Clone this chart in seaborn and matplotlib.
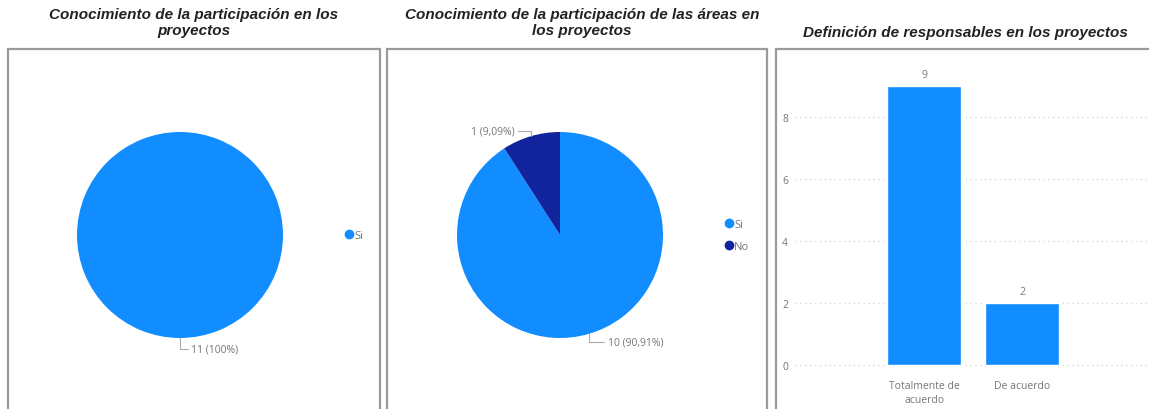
import textwrap
import matplotlib
matplotlib.use("Agg")
import matplotlib.pyplot as plt
import matplotlib.patches as mpatches
from matplotlib.lines import Line2D
import numpy as np
import seaborn as sns

# ---- data ----
titles = [
    "Conocimiento de la participación en los\nproyectos",
    "Conocimiento de la participación de las áreas en\nlos proyectos",
    "Definición de responsables en los proyectos",
]
pie1_labels = ["Si"]
pie1_values = [11]
pie2_labels = ["Si", "No"]
pie2_values = [10, 1]
bar_labels = ["Totalmente de acuerdo", "De acuerdo"]
bar_values = [9, 2]
bar_ticks = [0, 2, 4, 6, 8]

# ---- style ----
BLUE = "#118DFF"
NAVY = "#12239E"
TXT = "#777777"
LEAD = "#aaaaaa"
W, H = 1149, 410

sns.set_theme(style="white")
plt.rcParams["font.family"] = ["Liberation Sans", "DejaVu Sans"]

fig = plt.figure(figsize=(W / 100, H / 100), dpi=100)
fig.patch.set_facecolor("white")


def fx(px):
    return px / W


def fy(py):
    # py measured from the top of the figure
    return 1 - py / H


# panel frames
for x0, x1 in [(8, 380), (387, 767), (776, 1160)]:
    fig.add_artist(mpatches.Rectangle((fx(x0), -0.02), fx(x1 - x0), fy(50) + 0.02,
                                      transform=fig.transFigure, fill=False,
                                      ec="#9a9a9a", lw=1.6))

# titles
for t, cx, cy in zip(titles, [194, 582, 965], [23, 23, 33]):
    fig.text(fx(cx), fy(cy), t, ha="center", va="center", fontsize=11,
             fontweight="bold", fontstyle="italic", color="#222222",
             linespacing=1.12)


def fmt_pct(v, total):
    p = 100 * v / total
    if abs(p - round(p)) < 1e-9:
        s = f"{int(round(p))}"
    else:
        s = f"{p:.2f}".replace(".", ",")
    return f"{v} ({s}%)"


def pie_axes(cx, cy, r=103):
    half = 1.5 * r
    ax = fig.add_axes([fx(cx - half), fy(cy + half), fx(2 * half), 2 * half / H])
    ax.set_xlim(-1.5, 1.5)
    ax.set_ylim(-1.5, 1.5)
    ax.set_axis_off()
    return ax


def draw_pie(ax, values, colors, leaders):
    wedges, _ = ax.pie(values, colors=colors, startangle=90, counterclock=False,
                       radius=1.0, wedgeprops=dict(linewidth=0))
    total = sum(values)
    for w, v, (dv, dh) in zip(wedges, values, leaders):
        ang = np.deg2rad((w.theta1 + w.theta2) / 2)
        x0, y0 = np.cos(ang), np.sin(ang)
        y1 = y0 + dv
        x2 = x0 + dh
        ax.plot([x0, x0, x2], [y0, y1, y1], color=LEAD, lw=0.8, clip_on=False)
        ha = "left" if dh > 0 else "right"
        ax.text(x2 + (0.03 if dh > 0 else -0.03), y1, fmt_pct(v, total),
                ha=ha, va="center", fontsize=7.5, color=TXT,
                family=["Open Sans", "DejaVu Sans"])
    ax.set_xlim(-1.5, 1.5)
    ax.set_ylim(-1.5, 1.5)


def legend(labels, colors, x, y):
    handles = [Line2D([], [], marker="o", ls="", markersize=6, color=c) for c in colors]
    fig.legend(handles, labels, loc="upper left",
               bbox_to_anchor=(fx(x), fy(y)), bbox_transform=fig.transFigure,
               frameon=False, handlelength=0.6, handletextpad=0.15,
               labelspacing=0.95, borderpad=0, borderaxespad=0,
               prop=dict(size=8, family=["Open Sans", "DejaVu Sans"]),
               labelcolor=TXT)


# pie 1
ax1 = pie_axes(180, 236)
draw_pie(ax1, pie1_values, [BLUE], [(-0.11, 0.08)])
legend(pie1_labels, [BLUE], 346, 231)

# pie 2
ax2 = pie_axes(560, 236)
draw_pie(ax2, pie2_values, [BLUE, NAVY], [(-0.08, 0.15), (0.05, -0.13)])
legend(pie2_labels, [BLUE, NAVY], 726, 220)

# bar chart
axb = fig.add_axes([fx(795), fy(375), fx(W - 795 + 2), (375 - 71.5) / H])
sns.barplot(x=bar_labels, y=bar_values, ax=axb, color=BLUE, saturation=1,
            width=0.755)
axb.set_xlim(-1.316, 2.31)
axb.set_ylim(-0.3, 9.5)
axb.set_yticks(bar_ticks)
axb.set_xticks(range(len(bar_labels)))
axb.set_xticklabels([textwrap.fill(l, 14) for l in bar_labels],
                    linespacing=1.45)
for s in axb.spines.values():
    s.set_visible(False)
axb.grid(axis="y", color="#d8d8d8", lw=1.0, ls=(0, (1, 2.5)))
axb.set_axisbelow(True)
axb.tick_params(axis="both", length=0, labelsize=7.5, labelcolor=TXT)
axb.tick_params(axis="y", pad=5)
axb.tick_params(axis="x", pad=4)
for lab in axb.get_xticklabels() + axb.get_yticklabels():
    lab.set_family(["Open Sans", "DejaVu Sans"])
axb.bar_label(axb.containers[0], labels=[str(v) for v in bar_values],
              padding=4, fontsize=7.5, color=TXT,
              family=["Open Sans", "DejaVu Sans"])
axb.set_xlabel("")
axb.set_ylabel("")

fig.savefig("out.png", dpi=100, facecolor="white")
